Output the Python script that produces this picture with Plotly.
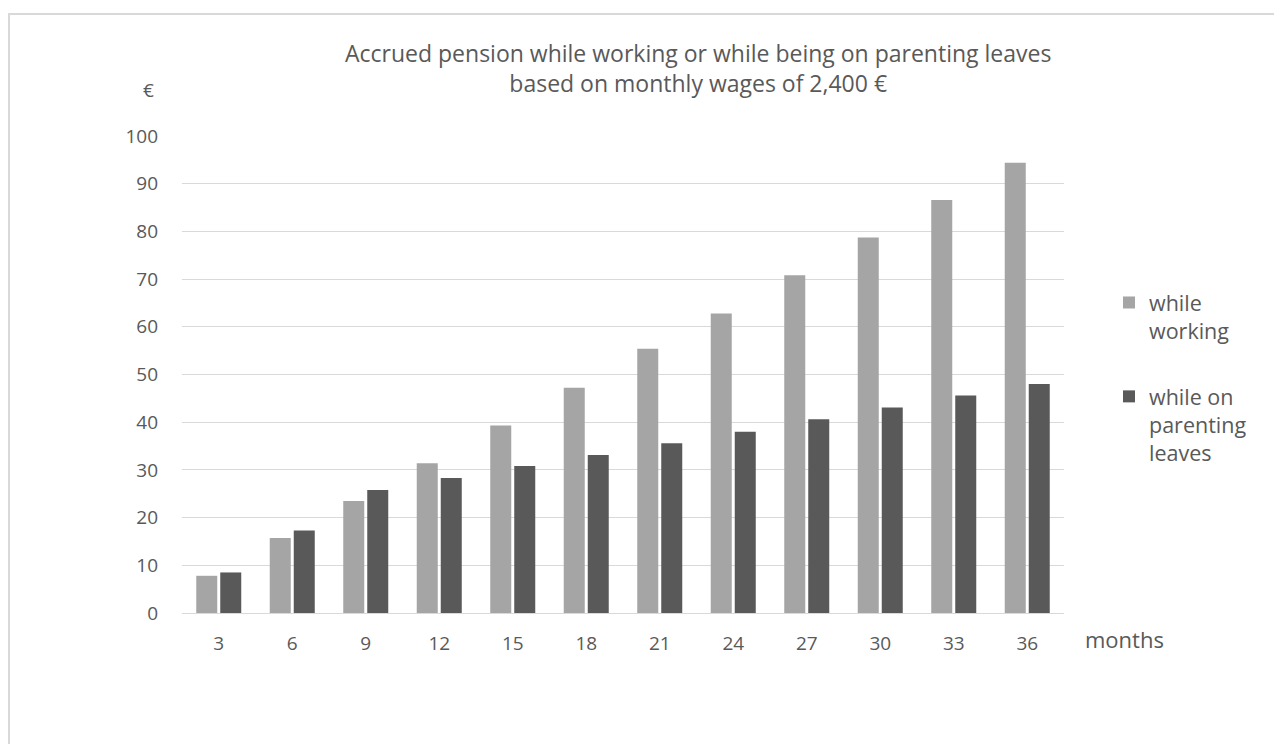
import plotly.graph_objects as go

months = ["3", "6", "9", "12", "15", "18", "21", "24", "27", "30", "33", "36"]
while_working = [7.8, 15.7, 23.5, 31.4, 39.3, 47.2, 55.4, 62.8, 70.8, 78.7, 86.6, 94.4]
while_parenting = [8.5, 17.3, 25.8, 28.3, 30.8, 33.1, 35.6, 38.0, 40.6, 43.1, 45.6, 48.0]
y_ticks = [0, 10, 20, 30, 40, 50, 60, 70, 80, 90, 100]

TXT = "#595959"
FONT = "Open Sans"
OFF = 8  # page body margin

fig = go.Figure()
fig.add_trace(go.Bar(x=months, y=while_working, name="while<br>working",
                     legendgroup="a",
                     marker=dict(color="#a5a5a5", line=dict(width=0))))
fig.add_trace(go.Bar(x=months, y=while_parenting, name="while on<br>parenting<br>leaves",
                     legendgroup="b",
                     marker=dict(color="#595959", line=dict(width=0))))

W, H = 1282, 744
L, R, T, B = 174, 226, 128, 139
pw, ph = W - L - R, H - T - B


def px_x(p):
    return (p - OFF - L) / pw


def px_y(p):
    return (H - B - (p - OFF)) / ph


fig.update_layout(
    width=W, height=H,
    margin=dict(l=L, r=R, t=T, b=B),
    paper_bgcolor="white", plot_bgcolor="white",
    font=dict(family=FONT, color=TXT, size=19),
    barmode="group", bargap=0.347, bargroupgap=0.125,
    showlegend=True,
    legend=dict(x=px_x(1109), y=px_y(282), xanchor="left", yanchor="top",
                font=dict(size=21.5, color=TXT), tracegroupgap=35, valign="top",
                itemwidth=30, bgcolor="rgba(0,0,0,0)"),
    xaxis=dict(showgrid=False, showline=True, linecolor="#d9d9d9", linewidth=1,
               ticks="", ticklabelstandoff=13, tickfont=dict(size=19, color=TXT)),
    yaxis=dict(range=[0, 100], tickvals=y_ticks, showgrid=True, gridcolor="#d9d9d9",
               gridwidth=1, zeroline=False, showline=False, ticks="",
               ticklabelstandoff=23, tickfont=dict(size=19, color=TXT)),
    annotations=[
        dict(text="Accrued pension while working or while being on parenting leaves<br>based on monthly wages of 2,400 €",
             x=px_x(698), y=px_y(68), xref="paper", yref="paper", showarrow=False,
             xanchor="center", yanchor="middle", font=dict(size=23, color=TXT)),
        dict(text="€", x=px_x(148), y=px_y(90), xref="paper", yref="paper",
             showarrow=False, xanchor="center", yanchor="middle",
             font=dict(size=19, color=TXT)),
        dict(text="months", x=px_x(1083), y=px_y(639), xref="paper", yref="paper",
             showarrow=False, xanchor="left", yanchor="middle",
             font=dict(size=22, color=TXT)),
    ],
    shapes=[
        dict(type="rect", xref="paper", yref="paper",
             x0=px_x(9), x1=px_x(1320), y0=px_y(780), y1=px_y(14),
             line=dict(color="#d9d9d9", width=2), fillcolor="rgba(0,0,0,0)", layer="below"),
    ],
)

fig.write_html("out.html")
